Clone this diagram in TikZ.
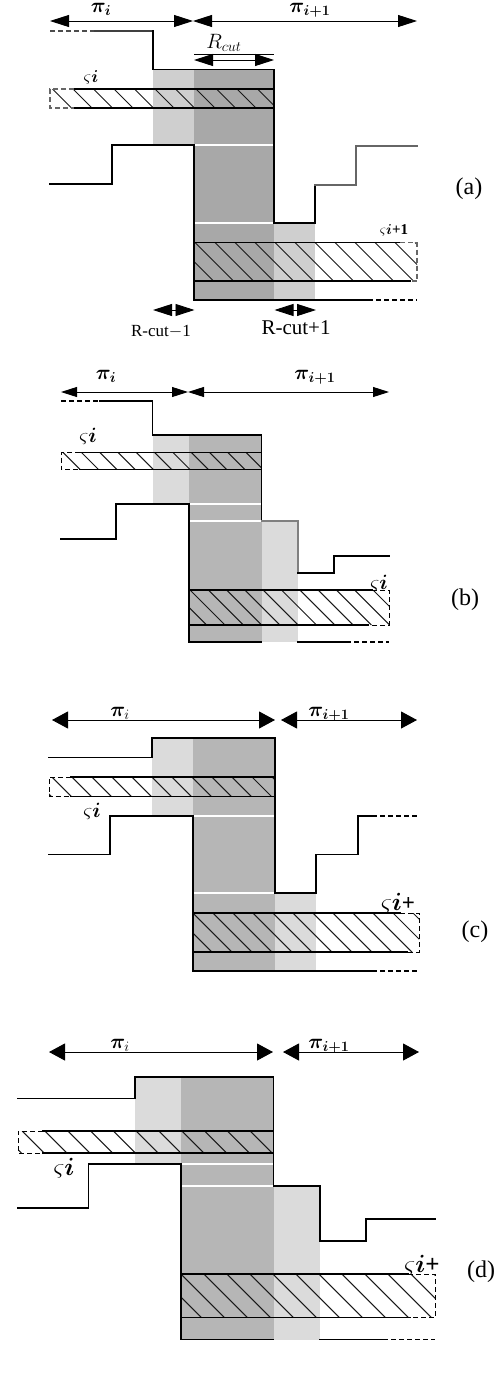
\documentclass[tikz,border=0pt]{standalone}
\usepackage{fontspec}
\usepackage{bm}
\setmainfont{Liberation Serif}
\usetikzlibrary{arrows.meta}
\definecolor{lightA}{HTML}{CFCFCF}
\definecolor{darkA}{HTML}{A8A8A8}
\definecolor{lightB}{HTML}{DBDBDB}
\definecolor{darkB}{HTML}{B6B6B6}
\tikzset{
  x=1pt,y=-1pt,
  profile/.style={line width=1.25pt,black,line cap=rect},
  dashprof/.style={line width=1.1pt,black,dash pattern=on 5pt off 3pt},
  hatchline/.style={line width=1.05pt,black!90},
  whitecut/.style={line width=1.1pt,white},
  dimA/.style={line width=0.9pt,black,{Triangle[length=19pt,width=12pt]}-{Triangle[length=19pt,width=12pt]}},
  dimB/.style={line width=1pt,black,{Triangle[length=16pt,width=17pt]}-{Triangle[length=16pt,width=17pt]}},
  dimC/.style={line width=0.9pt,black,{Triangle[length=16pt,width=10pt]}-{Triangle[length=16pt,width=10pt]}},
  pilbl/.style={inner sep=0pt,font=\fontsize{21}{24}\selectfont},
  panel/.style={inner sep=0pt,font=\fontsize{24}{26}\selectfont},
}
% #1 x-left, #2 y-top, #3 x-right, #4 y-bottom, #5 first top x, #6 spacing
\newcommand{\hatchbar}[6]{%
  \begin{scope}
    \clip (#1,#2) rectangle (#3,#4);
    \foreach \k in {-3,...,16}{
      \draw[hatchline] ({#5+\k*#6},#2) -- ({#5+\k*#6+#4-#2},#4);
    }
  \end{scope}}
\newcommand{\pibi}{\ensuremath{\bm{\pi}_{\bm{i}}}}
\newcommand{\pibj}{\ensuremath{\bm{\pi}_{\bm{i+1}}}}
\newcommand{\pihi}{\ensuremath{\bm{\pi}_{i}}}
\begin{document}
\begin{tikzpicture}
\useasboundingbox (0,0) rectangle (498,1376);
%---------------- (a)
\fill[lightA] (153,69.5) rectangle (194,145);
\fill[lightA] (274,223) rectangle (315,300);
\fill[darkA] (194,69.5) rectangle (274,300);
\draw[whitecut] (194,145) -- (274,145);
\draw[whitecut] (194,223) -- (274,223);
\hatchbar{50}{89}{274}{108}{73}{20.5}
\hatchbar{194}{242.5}{417}{281}{215}{20}
\draw[profile] (74,89) -- (274,89) -- (274,108) -- (74,108);
\draw[dashprof,black!60] (74,89) -- (50,89) -- (50,108) -- (74,108);
\draw[profile] (194,281) -- (194,242.5) -- (400,242.5);
\draw[profile] (194,281) -- (410,281);
\draw[dashprof,black!60] (400,242.5) -- (417,242.5) -- (417,281) -- (410,281);
\draw[dashprof,black!70] (50,31) -- (95,31);
\draw[profile,black!75] (95,31) -- (153,31);
\draw[profile] (153,31) -- (153,69.5) -- (274,69.5) -- (274,223) -- (315,223) -- (315,185);
\draw[profile,black!60] (315,185) -- (356,185) -- (356,146) -- (417,146);
\draw[profile] (50,184) -- (112,184) -- (112,145) -- (194,145) -- (194,300) -- (372,300);
\draw[dashprof] (376,300) -- (417,300);
\node[pilbl] (ap) at (101,9) {\pibi};
\node[pilbl] (aq) at (310,10) {\pibj};
\coordinate (a1) at (50,21); \coordinate (a2) at (193,21); \coordinate (a3) at (417,21);
\draw[dimA] (a1) -- (a2);
\draw[dimA] (a2) -- (a3);
\coordinate (ar1) at (194,60); \coordinate (ar2) at (274,60);
\coordinate (ar3) at (194,54); \coordinate (ar4) at (274,54);
\draw[line width=0.6pt] (ar3) -- (ar4);
\draw[dimA] (ar1) -- (ar2);
\node[inner sep=0pt,font=\fontsize{22}{24}\selectfont] (ar) at (224,43) {$R_{cut}$};
\coordinate (am1) at (153,310); \coordinate (am2) at (194.5,310);
\draw[dimA] (am1) -- (am2);
\coordinate (am3) at (274.5,310); \coordinate (am4) at (316,310);
\draw[dimA] (am3) -- (am4);
\node[inner sep=0pt,font=\fontsize{17}{19}\selectfont] (at1) at (161,332) {R-cut$-$1};
\node[inner sep=0pt,font=\fontsize{21}{23}\selectfont] (at2) at (296,328) {R-cut+1};
\node[inner sep=0pt,font=\fontsize{16}{18}\selectfont] (as1) at (91,77) {$\varsigma\bm{i}$};
\node[inner sep=0pt,font=\fontsize{15}{18}\selectfont] (as2) at (394,230) {$\varsigma\bm{i}${\bfseries+1}};
\node[panel] (alab) at (469,189) {(a)};
%---------------- (b)
\fill[lightB] (152.5,435) rectangle (189,504);
\fill[lightB] (261.5,521) rectangle (298,642);
\fill[darkB] (189,435) rectangle (261.5,642);
\draw[whitecut] (189,504) -- (261.5,504);
\draw[whitecut] (189,521) -- (261.5,521);
\hatchbar{61}{452.5}{261.5}{469.5}{81.5}{18.3}
\hatchbar{189}{590}{389}{625}{190}{18.3}
\draw[profile] (80,452.5) -- (261.5,452.5) -- (261.5,469.5) -- (80,469.5);
\draw[dashprof,line width=0.8pt] (80,452.5) -- (61,452.5) -- (61,469.5) -- (80,469.5);
\draw[profile] (189,625) -- (189,590) -- (372,590);
\draw[profile] (189,625) -- (368,625);
\draw[dashprof,line width=0.8pt] (372,590) -- (389,590) -- (389,625) -- (368,625);
\draw[dashprof] (61,401) -- (100,401);
\draw[profile] (100,401) -- (152.5,401) -- (152.5,435) -- (261.5,435) -- (261.5,521);
\draw[profile,black!50] (261.5,521) -- (298,521) -- (298,573);
\draw[profile] (298,573) -- (334,573) -- (334,556) -- (389,556);
\draw[profile] (61,539) -- (116,539) -- (116,504) -- (189,504) -- (189,642) -- (261.5,642);
\draw[profile] (298,642) -- (350,642);
\draw[dashprof] (354,642) -- (389,642);
\node[pilbl] (bp) at (106,376) {\pibi};
\node[pilbl] (bq) at (315,377) {\pibj};
\coordinate (b1) at (61,392); \coordinate (b2) at (188,392); \coordinate (b3) at (389,392);
\draw[dimC] (b1) -- (b2);
\draw[dimC] (b2) -- (b3);
\node[inner sep=0pt,font=\fontsize{22}{24}\selectfont] (bs1) at (88,436) {$\varsigma\bm{i}$};
\node[inner sep=0pt,font=\fontsize{22}{24}\selectfont] (bs2) at (379,583) {$\varsigma\bm{i}$};
\node[panel] (blab) at (465,600) {(b)};
%---------------- (c)
\fill[lightB] (152,738) rectangle (193,816);
\fill[lightB] (275,893) rectangle (316,971);
\fill[darkB] (193,738) rectangle (275,971);
\draw[whitecut] (193,816) -- (275,816);
\draw[whitecut] (193,893) -- (275,893);
\hatchbar{49}{777}{275}{796.5}{72}{20}
\hatchbar{193}{913}{419}{952}{213}{20}
\draw[profile] (71,777) -- (275,777);
\draw[profile] (275,796.5) -- (71,796.5);
\draw[dashprof,line width=0.8pt] (71,777) -- (49,777) -- (49,796.5) -- (71,796.5);
\draw[profile] (193,952) -- (193,913) -- (400,913);
\draw[profile] (193,952) -- (407,952);
\draw[dashprof,line width=0.8pt] (400,913) -- (419,913) -- (419,952) -- (407,952);
\draw[profile] (49,757.5) -- (152,757.5) -- (152,738) -- (275,738) -- (275,893) -- (316,893) -- (316,854.5) -- (358,854.5) -- (358,816) -- (376,816);
\draw[dashprof] (380,816) -- (419,816);
\draw[profile] (49,854.5) -- (110,854.5) -- (110,816) -- (193,816) -- (193,971) -- (376,971);
\draw[dashprof] (380,971) -- (419,971);
\node[pilbl] (cp) at (120,713) {\pihi};
\node[pilbl] (cq) at (329,714) {\pibj};
\coordinate (c1) at (52,720); \coordinate (c2) at (275,720);
\coordinate (c3) at (281,720); \coordinate (c4) at (417,720);
\draw[dimB] (c1) -- (c2);
\draw[dimB] (c3) -- (c4);
\node[inner sep=0pt,font=\fontsize{22}{24}\selectfont] (cs1) at (92,811) {$\varsigma\bm{i}$};
\node[inner sep=0pt,font=\fontsize{23}{25}\selectfont] (cs2) at (398,903) {$\varsigma\bm{i}$\textbf{+}};
\node[panel] (clab) at (475,932) {(c)};
%---------------- (d)
\fill[lightB] (135,1077) rectangle (181,1164);
\fill[lightB] (273.5,1186) rectangle (320,1339.5);
\fill[darkB] (181,1077) rectangle (273.5,1339.5);
\draw[whitecut] (181,1164) -- (273.5,1164);
\draw[whitecut] (181,1186) -- (273.5,1186);
\hatchbar{18}{1131}{273.5}{1153}{45}{22.8}
\hatchbar{181}{1274}{435}{1317.5}{204}{23}
\draw[profile] (43,1131) -- (273.5,1131);
\draw[profile] (273.5,1153) -- (43,1153);
\draw[dashprof,line width=0.8pt] (43,1131) -- (18,1131) -- (18,1153) -- (43,1153);
\draw[profile] (181,1317.5) -- (181,1274) -- (408,1274);
\draw[profile] (181,1317.5) -- (410,1317.5);
\draw[dashprof,line width=0.8pt] (408,1274) -- (435,1274) -- (435,1317.5) -- (410,1317.5);
\draw[profile] (18,1098.5) -- (135,1098.5) -- (135,1077) -- (273.5,1077) -- (273.5,1186) -- (320,1186) -- (320,1241) -- (366,1241) -- (366,1219) -- (435,1219);
\draw[profile] (18,1208) -- (88.5,1208) -- (88.5,1164) -- (181,1164) -- (181,1339.5) -- (273.5,1339.5);
\draw[profile] (320,1339.5) -- (387,1339.5);
\draw[dashprof] (391,1339.5) -- (435,1339.5);
\node[pilbl] (dp) at (120,1045) {\pihi};
\node[pilbl] (dq) at (329,1046) {\pibj};
\coordinate (d1) at (49,1052); \coordinate (d2) at (273,1052);
\coordinate (d3) at (283,1052); \coordinate (d4) at (419,1052);
\draw[dimB] (d1) -- (d2);
\draw[dimB] (d3) -- (d4);
\node[inner sep=0pt,font=\fontsize{23}{25}\selectfont] (ds1) at (64,1168) {$\varsigma\bm{i}$};
\node[inner sep=0pt,font=\fontsize{25}{27}\selectfont] (ds2) at (422,1265) {$\varsigma\bm{i}$\textbf{+}};
\node[panel] (dlab) at (481,1272) {(d)};
\end{tikzpicture}
\end{document}
